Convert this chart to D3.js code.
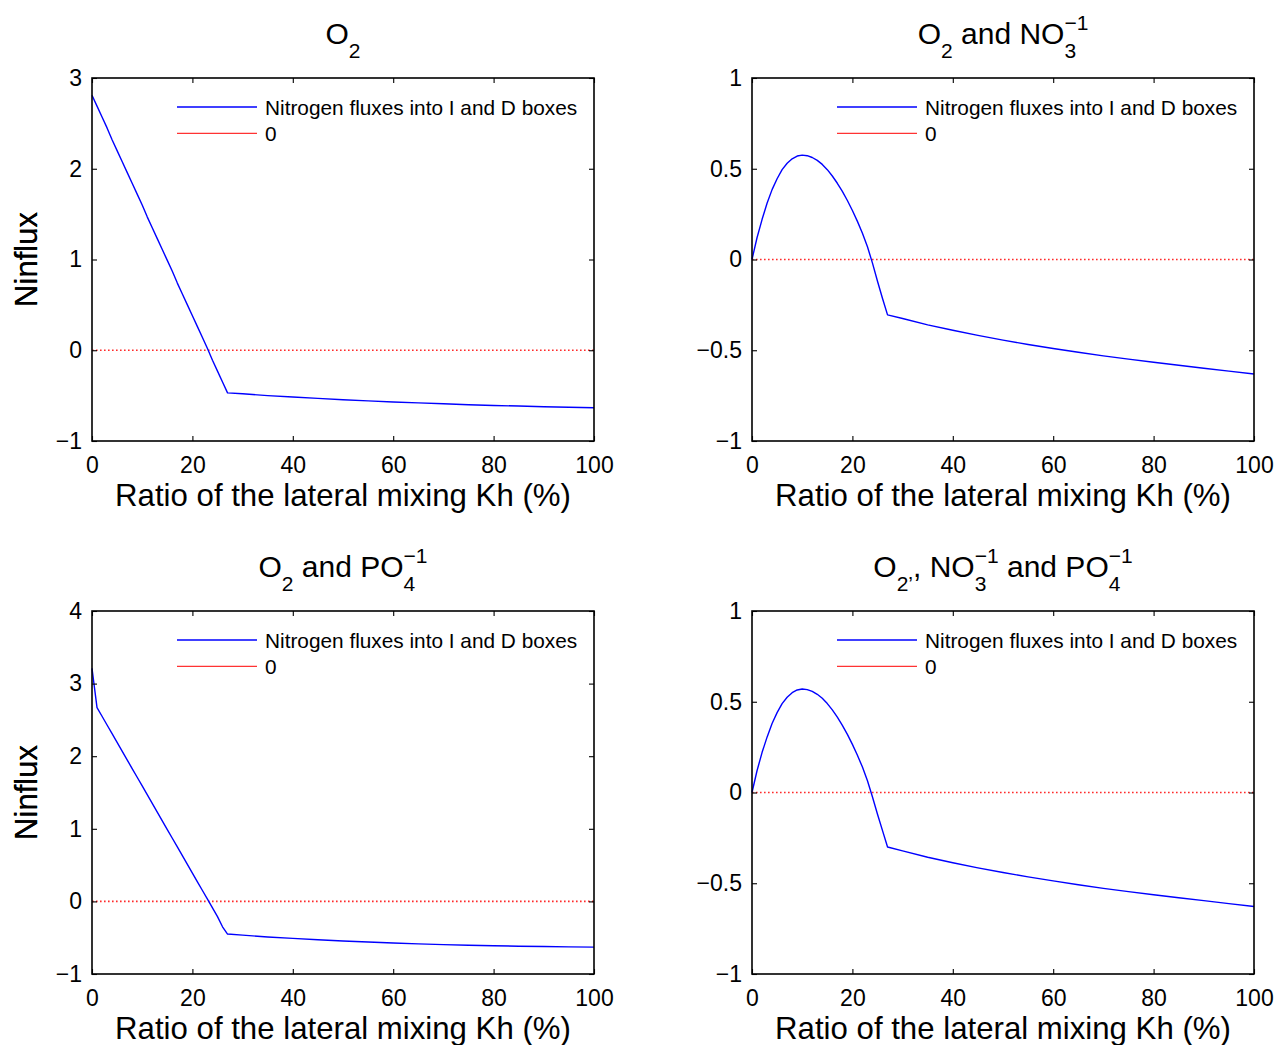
<!DOCTYPE html>
<html>
<head>
<meta charset="utf-8">
<script src="https://cdn.jsdelivr.net/npm/d3@7"></script>
<style>
  body { margin: 0; background: #fff; }
  svg text { font-family: "Liberation Sans", Arial, Helvetica, sans-serif; fill: #000; }
</style>
</head>
<body>
<svg id="fig" width="1279" height="1045"></svg>
<script>
// Lateral mixing ratio Kh (%) sampled for every run
const kh = [0, 1, 2, 3, 4, 5, 6, 7, 8, 9, 10, 11, 12, 13, 14, 15, 16, 17, 18, 19, 20, 21, 22, 23, 24, 25, 26, 27,
            30, 35, 40, 45, 50, 55, 60, 65, 70, 75, 80, 85, 90, 95, 100];

// Nitrogen fluxes into I and D boxes, one series per constraint set
const fluxO2 = [2.81, 2.69, 2.57, 2.45, 2.32, 2.20, 2.08, 1.96, 1.84, 1.72, 1.60, 1.47, 1.35, 1.23, 1.11, 0.99, 0.87, 0.74, 0.62, 0.50,
                0.38, 0.26, 0.14, 0.02, -0.11, -0.23, -0.35, -0.47,
                -0.48, -0.50, -0.515, -0.53, -0.545, -0.558, -0.57, -0.58, -0.59, -0.60, -0.608, -0.615, -0.622, -0.628, -0.634];
const fluxO2NO3 = [0, 0.12, 0.22, 0.31, 0.385, 0.445, 0.495, 0.53, 0.555, 0.57, 0.575, 0.572, 0.562, 0.546, 0.524, 0.495, 0.46, 0.42, 0.375, 0.325,
                   0.27, 0.21, 0.145, 0.07, -0.02, -0.12, -0.215, -0.305,
                   -0.325, -0.36, -0.39, -0.418, -0.444, -0.468, -0.49, -0.511, -0.531, -0.549, -0.566, -0.583, -0.599, -0.615, -0.631];
const fluxO2PO4 = [3.21, 2.67, 2.55, 2.43, 2.31, 2.19, 2.07, 1.95, 1.83, 1.71, 1.59, 1.47, 1.35, 1.23, 1.11, 0.99, 0.87, 0.75, 0.63, 0.51,
                   0.39, 0.27, 0.15, 0.03, -0.09, -0.21, -0.35, -0.45,
                   -0.465, -0.49, -0.51, -0.528, -0.545, -0.56, -0.573, -0.585, -0.595, -0.603, -0.61, -0.617, -0.622, -0.627, -0.63];
const fluxAll = [0, 0.12, 0.22, 0.305, 0.38, 0.44, 0.49, 0.525, 0.55, 0.565, 0.57, 0.567, 0.557, 0.541, 0.519, 0.49, 0.455, 0.415, 0.37, 0.32,
                 0.265, 0.205, 0.14, 0.065, -0.025, -0.12, -0.21, -0.30,
                 -0.322, -0.357, -0.387, -0.415, -0.441, -0.465, -0.487, -0.508, -0.528, -0.546, -0.563, -0.58, -0.596, -0.612, -0.628];

// Axis ticks
const xTicks = [0, 20, 40, 60, 80, 100];
const yTicksO2 = [-1, 0, 1, 2, 3];
const yTicksNO3 = [-1, -0.5, 0, 0.5, 1];
const yTicksPO4 = [-1, 0, 1, 2, 3, 4];

// Text
const legendLabels = ["Nitrogen fluxes into I and D boxes", "0"];
const xLabel = "Ratio of the lateral mixing Kh (%)";
const yLabel = "Ninflux";

const panels = [
  { col: 0, row: 0, values: fluxO2, domain: [-1, 3], ticks: yTicksO2,
    title: [{ t: "O" }, { sub: "2" }] },
  { col: 1, row: 0, values: fluxO2NO3, domain: [-1, 1], ticks: yTicksNO3,
    title: [{ t: "O" }, { sub: "2" }, { t: " and NO" }, { sub: "3", sup: "\u22121" }] },
  { col: 0, row: 1, values: fluxO2PO4, domain: [-1, 4], ticks: yTicksPO4,
    title: [{ t: "O" }, { sub: "2" }, { t: " and PO" }, { sub: "4", sup: "\u22121" }] },
  { col: 1, row: 1, values: fluxAll, domain: [-1, 1], ticks: yTicksNO3,
    title: [{ t: "O" }, { sub: "2\u2019" }, { t: ", NO" }, { sub: "3", sup: "\u22121" }, { t: " and PO" }, { sub: "4", sup: "\u22121" }] }
];

// Layout
const colLeft = [92, 752];
const rowTop = [78, 611];
const pw = 502, ph = 363;
const tickLen = 5;
const fmt = d => (d < 0 ? "\u2212" + Math.abs(d) : String(d));

const svg = d3.select("#fig");

function richText(g, parts, cx, baseline, size, small) {
  const grp = g.append("g");
  let cursor = 0;
  parts.forEach(p => {
    if (p.t !== undefined) {
      const el = grp.append("text").attr("x", cursor).attr("y", baseline)
        .attr("font-size", size).attr("xml:space", "preserve").style("white-space", "pre").text(p.t);
      cursor += el.node().getComputedTextLength();
    } else {
      let w = 0;
      if (p.sub !== undefined) {
        const s = grp.append("text").attr("x", cursor).attr("y", baseline + 14)
          .attr("font-size", small).text(p.sub);
        w = Math.max(w, s.node().getComputedTextLength());
      }
      if (p.sup !== undefined) {
        const s = grp.append("text").attr("x", cursor).attr("y", baseline - 14)
          .attr("font-size", small).text(p.sup);
        w = Math.max(w, s.node().getComputedTextLength());
      }
      cursor += w;
    }
  });
  grp.attr("transform", `translate(${cx - cursor / 2},0)`);
}

panels.forEach(p => {
  const left = colLeft[p.col], top = rowTop[p.row];
  const g = svg.append("g").attr("transform", `translate(${left},${top})`);

  const x = d3.scaleLinear().domain([0, 100]).range([0, pw]);
  const y = d3.scaleLinear().domain(p.domain).range([ph, 0]);

  // zero reference (dotted)
  g.append("path")
    .datum(d3.extent(kh))
    .attr("d", d => d3.line()([[x(d[0]), y(0)], [x(d[1]), y(0)]]))
    .attr("stroke", "#ff2a2a").attr("stroke-width", 1.7)
    .attr("stroke-dasharray", "1.6,2.4").attr("fill", "none");

  // flux curve
  const line = d3.line().x((d, i) => x(kh[i])).y(d => y(d));
  g.append("path").datum(p.values).attr("d", line)
    .attr("fill", "none").attr("stroke", "#0000ff").attr("stroke-width", 1.4)
    .attr("stroke-linejoin", "round");

  // axes: labelled bottom/left, tick-only top/right
  const styleAxis = sel => {
    sel.select(".domain").remove();
    sel.selectAll(".tick line").attr("stroke", "#000").attr("stroke-width", 1.1);
  };
  g.append("g").attr("transform", `translate(0,${ph})`)
    .call(d3.axisBottom(x).tickValues(xTicks).tickFormat(fmt).tickSizeInner(-tickLen).tickSizeOuter(0).tickPadding(16))
    .call(styleAxis)
    .selectAll("text").attr("font-size", 23).attr("font-family", null);
  g.append("g")
    .call(d3.axisLeft(y).tickValues(p.ticks).tickFormat(fmt).tickSizeInner(-tickLen).tickSizeOuter(0).tickPadding(10))
    .call(styleAxis)
    .selectAll("text").attr("font-size", 23).attr("font-family", null);
  g.append("g")
    .call(d3.axisTop(x).tickValues(xTicks).tickFormat("").tickSizeInner(-tickLen).tickSizeOuter(0))
    .call(styleAxis);
  g.append("g").attr("transform", `translate(${pw},0)`)
    .call(d3.axisRight(y).tickValues(p.ticks).tickFormat("").tickSizeInner(-tickLen).tickSizeOuter(0))
    .call(styleAxis);
  svg.selectAll(".tick text").attr("fill", "#000");

  // frame
  g.append("rect").attr("width", pw).attr("height", ph)
    .attr("fill", "none").attr("stroke", "#000").attr("stroke-width", 1.6);

  // legend
  const lg = g.append("g");
  const legendColors = ["#0000ff", "#ff3333"];
  legendLabels.forEach((lab, i) => {
    const ly = 29 + i * 26.3;
    lg.append("line").attr("x1", 85).attr("x2", 165).attr("y1", ly).attr("y2", ly)
      .attr("stroke", legendColors[i]).attr("stroke-width", 1.3);
    lg.append("text").attr("x", 173).attr("y", ly + 7.8).attr("font-size", 20.8).text(lab);
  });

  // axis labels
  g.append("text").attr("x", pw / 2).attr("y", ph + 65).attr("text-anchor", "middle")
    .attr("font-size", 31.2).text(xLabel);
  g.append("text").attr("transform", `translate(${37 - left},${ph / 2}) rotate(-90)`)
    .attr("text-anchor", "middle").attr("font-size", 31).text(yLabel);

  // title
  richText(g, p.title, pw / 2, -34, 30, 21);
});
</script>
</body>
</html>
